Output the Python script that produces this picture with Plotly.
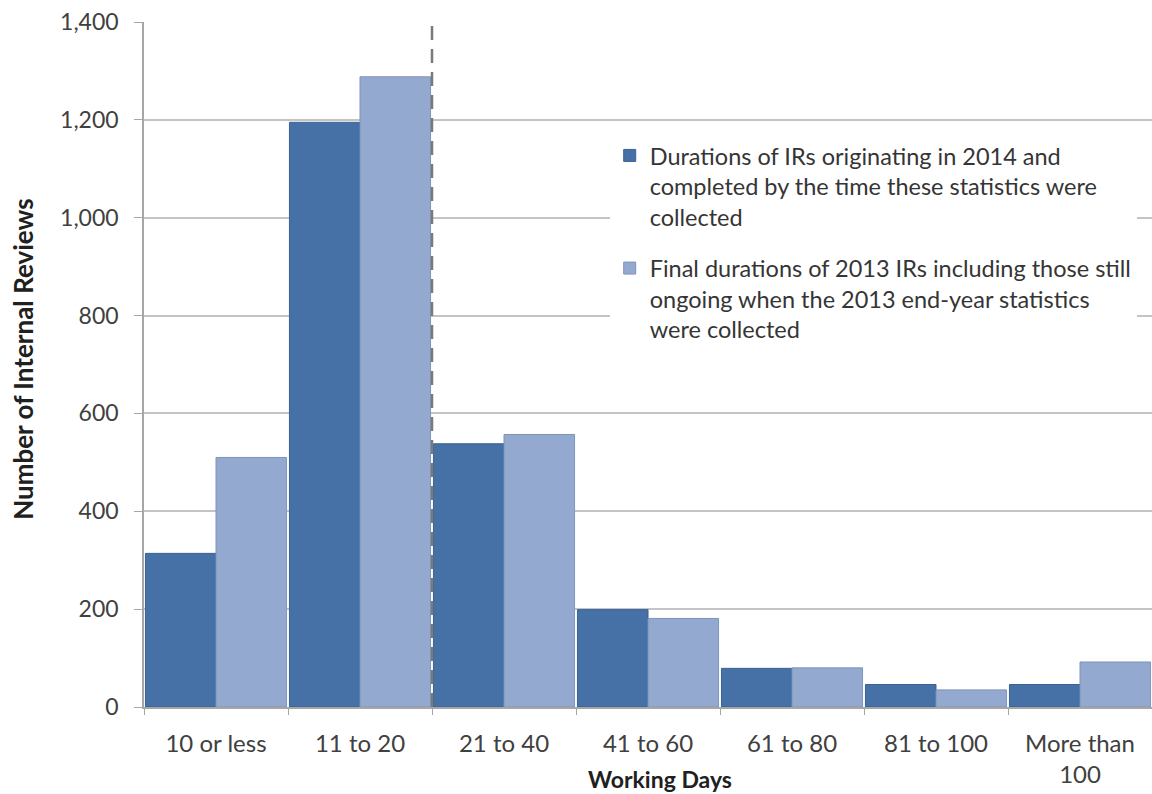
import plotly.graph_objects as go

# Working-day duration bands
categories = ["10 or less", "11 to 20", "21 to 40", "41 to 60",
              "61 to 80", "81 to 100", "More than<br>100"]

# Internal reviews per band
reviews_2014 = [314, 1195, 538, 199, 79, 46, 46]
reviews_2013 = [510, 1288, 557, 181, 80, 35, 92]

name_2014 = ("Durations of IRs originating in 2014 and<br>"
             "completed by the time these statistics were<br>"
             "collected")
name_2013 = ("Final durations of 2013 IRs including those still<br>"
             "ongoing when the 2013 end-year statistics<br>"
             "were collected")

y_ticks = [0, 200, 400, 600, 800, 1000, 1200, 1400]

FONT = "Lato, 'Open Sans', sans-serif"
DARK = "#4571A6"
LIGHT = "#94A9D0"

fig = go.Figure()
fig.add_trace(go.Bar(
    x=categories, y=reviews_2014, name=name_2014, legendgroup="a",
    marker=dict(color=DARK, line=dict(color="#3A6293", width=1)),
))
fig.add_trace(go.Bar(
    x=categories, y=reviews_2013, name=name_2013, legendgroup="b",
    marker=dict(color=LIGHT, line=dict(color="#7E93BA", width=1)),
))

# dashed divider between "11 to 20" and "21 to 40"
fig.add_shape(type="line", xref="x", yref="y", x0=1.5, x1=1.5, y0=0, y1=1400,
              line=dict(color="#7A7A7A", width=2.5, dash="14px,9px"), layer="above")

fig.update_layout(
    width=1152, height=794,
    margin=dict(l=144, r=0, t=22, b=87),
    paper_bgcolor="white", plot_bgcolor="white",
    barmode="group", bargap=0.02, bargroupgap=0.0,
    font=dict(family=FONT, size=24, color="#404040"),
    showlegend=True,
    legend=dict(
        x=0.462, y=0.837, xanchor="left", yanchor="top",
        bgcolor="white", font=dict(family=FONT, size=23.5, color="#353535"),
        valign="top", tracegroupgap=18, traceorder="grouped",
    ),
    xaxis=dict(
        showline=True, linecolor="#A6A6A6", linewidth=1.5,
        ticks="outside", tickson="boundaries", ticklen=6, tickcolor="#A6A6A6",
        ticklabelstandoff=14,
        tickfont=dict(family=FONT, size=24, color="#404040"),
        showgrid=False,
    ),
    yaxis=dict(
        range=[0, 1400], tickvals=y_ticks, tickformat=",d",
        showline=True, linecolor="#A6A6A6", linewidth=1.5,
        ticks="outside", ticklen=8, tickcolor="#A6A6A6",
        ticklabelstandoff=11,
        tickfont=dict(family=FONT, size=23, color="#404040"),
        showgrid=True, gridcolor="#C4C4C4", gridwidth=1.5,
        zeroline=False,
    ),
    annotations=[
        dict(text="<b>Number of Internal Reviews</b>", xref="paper", yref="paper",
             x=-0.120, y=0.507, xanchor="center", yanchor="middle",
             textangle=-90, showarrow=False,
             font=dict(family=FONT, size=26, color="#202020")),
        dict(text="<b>Working Days</b>", xref="paper", yref="paper",
             x=0.512, y=-0.105, showarrow=False, xanchor="center", yanchor="middle",
             font=dict(family=FONT, size=23, color="#202020")),
    ],
)

fig.write_html("out.html")
